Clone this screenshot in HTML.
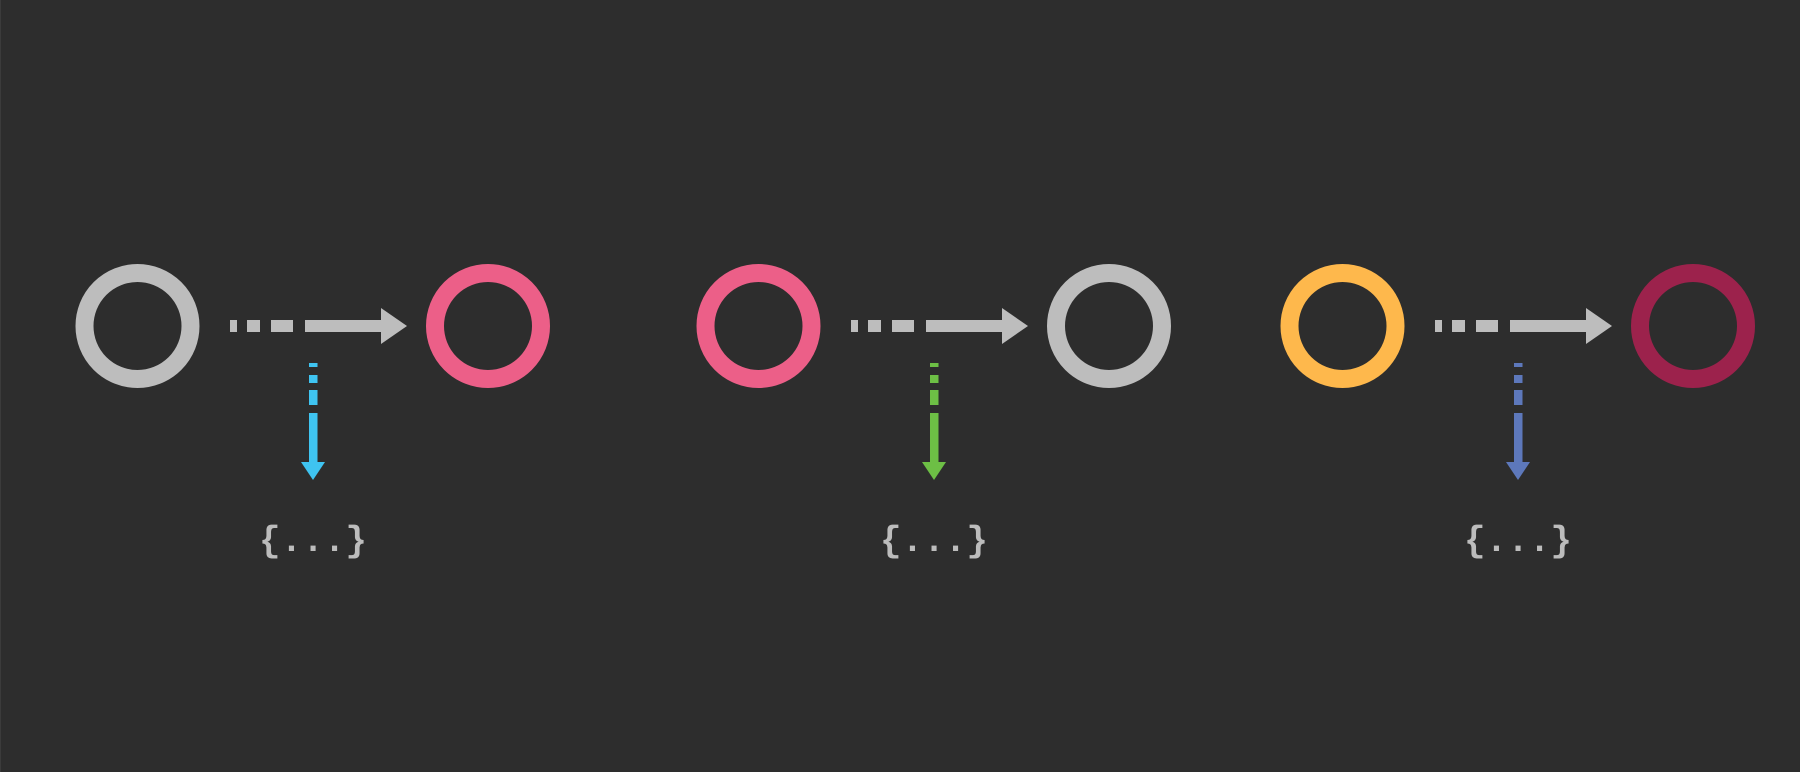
<!DOCTYPE html>
<html><head><meta charset="utf-8"><style>
html,body{margin:0;padding:0;background:#2d2d2d;width:1800px;height:772px;overflow:hidden}
svg{display:block}
text{font-family:"Liberation Mono",monospace;font-size:36px;font-weight:bold;fill:#bcbcbc}
</style></head><body>
<svg width="1800" height="772" viewBox="0 0 1800 772">
<rect x="0" y="0" width="1800" height="772" fill="#2d2d2d"/>
<rect x="0" y="0" width="1" height="772" fill="#3b3b3b"/>
<g id="root"></g>
</svg>
<script>
const groupOffsets=[0,621,1205];
const fromColors=['#bdbdbd','#ec5f88','#feb84c'];
const toColors=['#ec5f88','#bdbdbd','#9c224c'];
const downColors=['#3fc4f1','#6dbf45','#5d78bb'];
const NS='http://www.w3.org/2000/svg';
const root=document.getElementById('root');
function mk(tag,attrs,parent){const e=document.createElementNS(NS,tag);for(const k in attrs)e.setAttribute(k,attrs[k]);parent.appendChild(e);return e;}
groupOffsets.forEach((off,i)=>{
  const g=mk('g',{transform:'translate('+off+',0)'},root);
  
  
  const c1=mk('circle',{cx:137.5,cy:326,r:53,fill:'none',stroke:fromColors[i],'stroke-width':18},g);
  
  
  const c2=mk('circle',{cx:488,cy:326,r:53,fill:'none',stroke:toColors[i],'stroke-width':18},g);
  
  
  const ha=mk('g',{fill:'#bdbdbd'},g);
  
  
  mk('rect',{x:230,y:320,width:7,height:12},ha);
  mk('rect',{x:247,y:320,width:13,height:12},ha);
  mk('rect',{x:271,y:320,width:22,height:12},ha);
  mk('rect',{x:305,y:320,width:78,height:12},ha);
  mk('polygon',{points:'381,308 407,326 381,344'},ha);
  const va=mk('g',{fill:downColors[i]},g);
  
  
  mk('rect',{x:309,y:363,width:8.5,height:4},va);
  mk('rect',{x:309,y:375,width:8.5,height:8},va);
  mk('rect',{x:309,y:390,width:8.5,height:15},va);
  mk('rect',{x:309,y:413,width:8.5,height:50},va);
  mk('polygon',{points:'301,462 325,462 313,480'},va);
  const t=mk('text',{x:313,y:551,'text-anchor':'middle'},g);
  t.textContent='{...}';
  
  
});
</script>
</body></html>
